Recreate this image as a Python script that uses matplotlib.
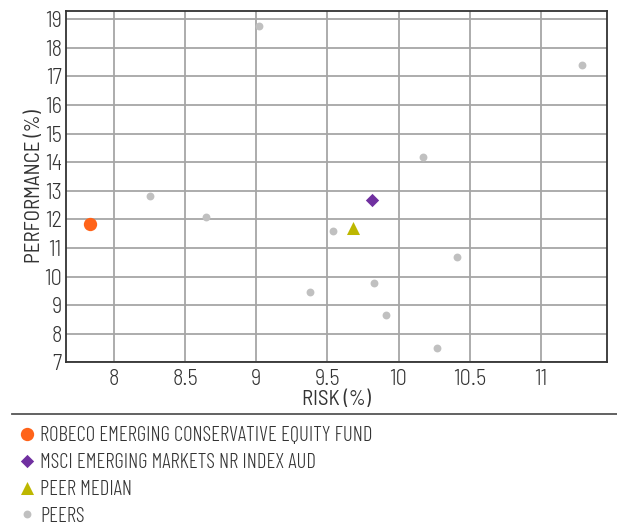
import matplotlib
matplotlib.use("Agg")
import matplotlib.pyplot as plt

plt.rcParams['font.family'] = ['Barlow Semi Condensed', 'DejaVu Sans']
plt.rcParams['font.weight'] = 300

# Risk / performance data (%)
fund_name = "ROBECO EMERGING CONSERVATIVE EQUITY FUND"
fund_risk = [7.83]
fund_perf = [11.83]

index_name = "MSCI EMERGING MARKETS NR INDEX AUD"
index_risk = [9.81]
index_perf = [12.66]

median_name = "PEER MEDIAN"
median_risk = [9.68]
median_perf = [11.70]

peers_name = "PEERS"
peers_risk = [9.02, 11.29, 10.17, 9.54, 10.41, 9.83, 9.38, 9.91, 10.27, 8.25, 8.65]
peers_perf = [18.76, 17.39, 14.19, 11.59, 10.67, 9.76, 9.45, 8.67, 7.52, 12.80, 12.08]

x_ticks = [8, 8.5, 9, 9.5, 10, 10.5, 11]
x_tick_labels = ["8", "8.5", "9", "9.5", "10", "10.5", "11"]
y_ticks = list(range(7, 20))

text_color = "#333333"

fig = plt.figure(figsize=(6.17, 5.26), dpi=100)
ax = fig.add_axes([0.107, 0.311, 0.877, 0.669])

ax.set_axisbelow(True)
ax.grid(True, color="#a6a6a6", linewidth=1.3)

peers = ax.scatter(peers_risk, peers_perf, s=32, color="#c0c0c0", marker="o",
                   linewidths=0, label=peers_name, zorder=3)
median = ax.scatter(median_risk, median_perf, s=88, color="#bdb700", marker="^",
                    linewidths=0, label=median_name, zorder=4)
index = ax.scatter(index_risk, index_perf, s=46, color="#7030a0", marker="D",
                   linewidths=0, label=index_name, zorder=4)
fund = ax.scatter(fund_risk, fund_perf, s=92, color="#ff6319", marker="o",
                  linewidths=0, label=fund_name, zorder=5)

ax.set_xlim(7.663, 11.466)
ax.set_ylim(7, 19.3)
ax.set_xticks(x_ticks)
ax.set_xticklabels(x_tick_labels)
ax.set_yticks(y_ticks)
ax.tick_params(axis="both", length=0, labelsize=16, labelcolor=text_color)
ax.tick_params(axis="x", pad=5)
ax.tick_params(axis="y", pad=3)

for spine in ax.spines.values():
    spine.set_color("#333333")
    spine.set_linewidth(1.3)

ax.set_xlabel("RISK (%)", fontsize=15, color=text_color, labelpad=0)
ax.set_ylabel("PERFORMANCE (%)", fontsize=15, color=text_color, labelpad=0)

# separator above the legend
fig.add_artist(plt.Line2D([12 / 617, 1.0], [1 - 414 / 526, 1 - 414 / 526],
                          transform=fig.transFigure, color="#555555", linewidth=1.3))

leg = fig.legend(handles=[fund, index, median, peers], loc="upper left",
                 bbox_to_anchor=(0.033, 1 - 426 / 526), frameon=False,
                 prop={"family": ["Barlow Condensed", "DejaVu Sans"],
                       "weight": 300, "size": 15},
                 labelcolor=text_color, handlelength=0.6,
                 handletextpad=0.35, labelspacing=0.38, borderpad=0,
                 borderaxespad=0, scatteryoffsets=[0.5])

fig.savefig("out.png", dpi=100)
